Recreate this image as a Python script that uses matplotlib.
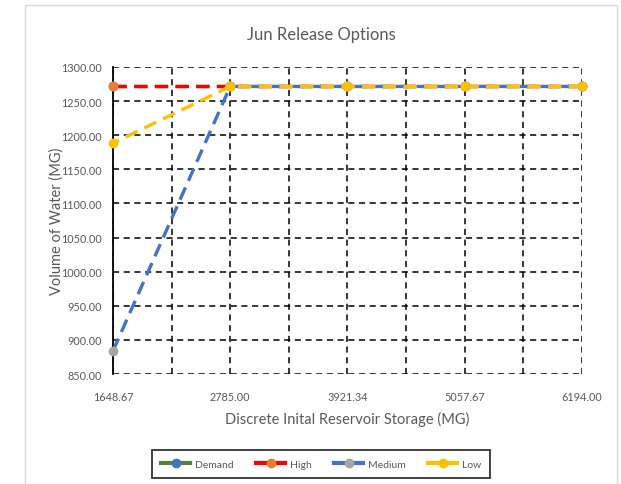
import matplotlib.pyplot as plt
from matplotlib.lines import Line2D
from matplotlib.patches import Rectangle

# storage levels (MG) and release volumes (MG)
storage = [1648.67, 2785.00, 3921.34, 5057.67, 6194.00]
demand = [1271.5, 1271.5, 1271.5, 1271.5, 1271.5]
high = [1271.5, 1271.5, 1271.5, 1271.5, 1271.5]
medium = [884.0, 1271.5, 1271.5, 1271.5, 1271.5]
low = [1188.5, 1271.5, 1271.5, 1271.5, 1271.5]

names = ['Demand', 'High', 'Medium', 'Low']
line_cols = ['#548235', '#ff0000', '#4472c4', '#ffc000']
mark_cols = ['#4472c4', '#ed7d31', '#a5a5a5', '#ffc000']

plt.rcParams['font.family'] = ['Lato', 'DejaVu Sans']
txt = '#595959'

fig = plt.figure(figsize=(6.21, 4.85), dpi=100)
ax = fig.add_axes([0.182, 0.2268, 0.755, 0.633])

series = [demand, high, medium, low]
offsets = [0, 0, 0, 2]
for vals, lc, mc, off, nm in zip(series, line_cols, mark_cols, offsets, names):
    ax.plot(storage, vals, color=lc, ls=(off, (4, 2.2)), lw=2.4, marker='o', ms=6,
            mfc=mc, mec=mc, label=nm, clip_on=False, zorder=3)

ax.set_xlim(storage[0], storage[-1])
ax.set_ylim(850, 1300)
ax.set_xticks(storage)
ax.set_xticklabels(['%.2f' % v for v in storage])
mids = [(storage[i] + storage[i + 1]) / 2 for i in range(len(storage) - 1)]
ax.set_xticks(mids, minor=True)
ax.set_yticks(range(850, 1301, 50))
ax.set_yticklabels(['%.2f' % v for v in range(850, 1301, 50)])
ax.tick_params(which='both', length=0, labelsize=7.8, colors=txt)
ax.tick_params(axis='x', pad=12)
ax.tick_params(axis='y', pad=8)

ax.grid(True, which='both', color='black', ls=(0, (4, 3)), lw=1.1)
ax.set_axisbelow(True)
for s in ['top', 'right', 'bottom']:
    ax.spines[s].set_visible(False)
ax.spines['left'].set_color('black')
ax.spines['left'].set_linewidth(1.3)

fig.text(321 / 621, 1 - 35 / 485, 'Jun Release Options', fontsize=12, color=txt,
         ha='center', va='center')
ax.set_xlabel('Discrete Inital Reservoir Storage (MG)', fontsize=10.5, color=txt, labelpad=7)
ax.set_ylabel('Volume of Water (MG)', fontsize=10.5, color=txt)
ax.yaxis.set_label_coords(-0.105, 0.5)

handles = [Line2D([], [], color=lc, lw=3, marker='o', ms=6, mfc=mc, mec=mc)
           for lc, mc in zip(line_cols, mark_cols)]
leg = fig.legend(handles, names, loc='center', bbox_to_anchor=(0.517, 0.041), ncol=4,
                 fontsize=7.5, frameon=True, fancybox=False, handlelength=2.8,
                 handletextpad=0.4, columnspacing=2.2, borderpad=0.9)
leg.get_frame().set_edgecolor('black')
leg.get_frame().set_linewidth(1.3)
for t in leg.get_texts():
    t.set_color(txt)

fig.patches.append(Rectangle((25 / 621, -0.01), 592 / 621, 1 - 6 / 485 + 0.01,
                             transform=fig.transFigure, fill=False,
                             edgecolor='#d9d9d9', lw=1))

fig.savefig('out.png', dpi=100)
